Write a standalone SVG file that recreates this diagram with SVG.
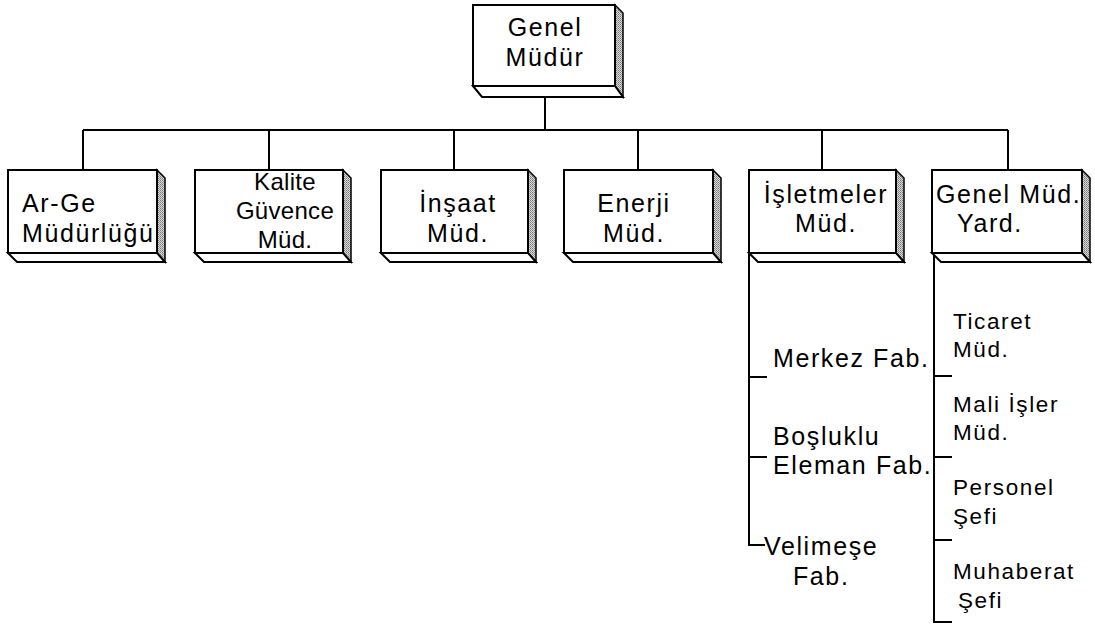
<svg xmlns="http://www.w3.org/2000/svg" width="1095" height="626" viewBox="0 0 1095 626">
  <defs>
    <!-- stippled grey used for the shaded side faces -->
    <pattern id="stipple" width="2" height="2" patternUnits="userSpaceOnUse">
      <rect width="2" height="2" fill="#d8d8d8"/>
      <rect width="1" height="1" fill="#777"/>
      <rect x="1" y="1" width="1" height="1" fill="#999"/>
    </pattern>
  </defs>
  <style>
    .face { fill: #fff; stroke: #000; stroke-width: 2; }
    .side { fill: url(#stipple); stroke: #000; stroke-width: 1.5; }
    .base { fill: #fff; stroke: #000; stroke-width: 2; }
    .wire { fill: none; stroke: #000; stroke-width: 2; }
    text { font-family: "Liberation Sans", Arial, sans-serif; font-size: 25px; fill: #000; letter-spacing: 1.6px; }
    .mid { text-anchor: middle; }
    .tight { font-size: 24px; letter-spacing: 0.3px; }
    .small { font-size: 22.5px; letter-spacing: 1.6px; }
  </style>

  <rect width="1095" height="626" fill="#fff"/>

  <!-- connectors -->
  <g id="connectors">
    <path class="wire" d="M545 97 V130"/>
    <path class="wire" d="M83 130 H1008"/>
    <path class="wire" d="M83 130 V170 M269 130 V170 M454 130 V170 M638 130 V170 M822 130 V170 M1008 130 V170"/>
    <!-- plants under İşletmeler -->
    <path class="wire" d="M749 253 V545 H765"/>
    <path class="wire" d="M749 377 H767 M749 457 H767"/>
    <!-- departments under Genel Müd. Yard. -->
    <path class="wire" d="M934 253 V622 H952"/>
    <path class="wire" d="M934 376 H952 M934 457 H952 M934 540 H952"/>
  </g>

  <!-- Genel Müdür -->
  <g id="genel-mudur">
    <polygon class="side" points="615,5 623,13 623,97 615,86"/>
    <polygon class="base" points="473,86 482,97 623,97 615,86"/>
    <rect class="face" x="473" y="5" width="142" height="81"/>
    <text class="mid" x="545" y="36">Genel</text>
    <text class="mid" x="545" y="66">Müdür</text>
  </g>

  <!-- Ar-Ge Müdürlüğü -->
  <g id="arge">
    <polygon class="side" points="157,170 165,178 165,262 157,253"/>
    <polygon class="base" points="8,253 17,262 165,262 157,253"/>
    <rect class="face" x="8" y="170" width="149" height="83"/>
    <text x="22" y="212">Ar-Ge</text>
    <text x="22" y="242">Müdürlüğü</text>
  </g>

  <!-- Kalite Güvence Müd. -->
  <g id="kalite">
    <polygon class="side" points="343,170 351,178 351,262 343,253"/>
    <polygon class="base" points="195,253 204,262 351,262 343,253"/>
    <rect class="face" x="195" y="170" width="148" height="83"/>
    <text class="mid tight" x="285" y="190">Kalite</text>
    <text class="mid tight" x="285" y="219">Güvence</text>
    <text class="mid tight" x="285" y="248">Müd.</text>
  </g>

  <!-- İnşaat Müd. -->
  <g id="insaat">
    <polygon class="side" points="528,170 536,178 536,262 528,253"/>
    <polygon class="base" points="381,253 390,262 536,262 528,253"/>
    <rect class="face" x="381" y="170" width="147" height="83"/>
    <text class="mid" x="458" y="212">İnşaat</text>
    <text class="mid" x="458" y="242">Müd.</text>
  </g>

  <!-- Enerji Müd. -->
  <g id="enerji">
    <polygon class="side" points="713,170 721,178 721,262 713,253"/>
    <polygon class="base" points="564,253 573,262 721,262 713,253"/>
    <rect class="face" x="564" y="170" width="149" height="83"/>
    <text class="mid" x="634" y="212">Enerji</text>
    <text class="mid" x="634" y="242">Müd.</text>
  </g>

  <!-- İşletmeler Müd. -->
  <g id="isletmeler">
    <polygon class="side" points="896,170 904,178 904,262 896,253"/>
    <polygon class="base" points="749,253 758,262 904,262 896,253"/>
    <rect class="face" x="749" y="170" width="147" height="83"/>
    <text class="mid" x="826" y="203">İşletmeler</text>
    <text class="mid" x="826" y="232">Müd.</text>
  </g>

  <!-- Genel Müd. Yard. -->
  <g id="gm-yard">
    <polygon class="side" points="1082,170 1090,178 1090,262 1082,253"/>
    <polygon class="base" points="932,253 941,262 1090,262 1082,253"/>
    <rect class="face" x="932" y="170" width="150" height="83"/>
    <text x="936" y="203">Genel Müd.</text>
    <text x="957" y="232">Yard.</text>
  </g>

  <!-- plants -->
  <g id="merkez">
    <text x="773" y="367">Merkez Fab.</text>
  </g>
  <g id="bosluklu">
    <text x="773" y="445">Boşluklu</text>
    <text x="773" y="474">Eleman Fab.</text>
  </g>
  <g id="velimese">
    <text x="764" y="555">Velimeşe</text>
    <text x="793" y="585">Fab.</text>
  </g>

  <!-- departments -->
  <g id="ticaret">
    <text class="small" x="953" y="329">Ticaret</text>
    <text class="small" x="953" y="357">Müd.</text>
  </g>
  <g id="mali-isler">
    <text class="small" x="953" y="412">Mali İşler</text>
    <text class="small" x="953" y="440">Müd.</text>
  </g>
  <g id="personel">
    <text class="small" x="953" y="495">Personel</text>
    <text class="small" x="953" y="524">Şefi</text>
  </g>
  <g id="muhaberat">
    <text class="small" x="953" y="579">Muhaberat</text>
    <text class="small" x="958" y="608">Şefi</text>
  </g>
</svg>
